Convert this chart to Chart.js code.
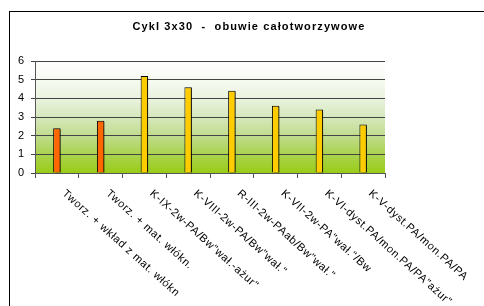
<!DOCTYPE html>
<html>
<head>
<meta charset="utf-8">
<script src="https://cdn.jsdelivr.net/npm/chart.js@4"></script>
<style>
  html, body { margin: 0; padding: 0; background: #fff; }
  #wrap { width: 484px; height: 306px; }
</style>
</head>
<body>
<div id="wrap"><canvas id="chart" width="484" height="306"></canvas></div>
<script>
// Dane wykresu
const chartTitle = "Cykl 3x30  -  obuwie całotworzywowe";
const categories = [
  "Tworz. + wkład z mat. włókn",
  "Tworz. + mat. włókn.",
  "K-IX-2w-PA/Bw\"wał.-ażur\"",
  "K-VIII-2w-PA/Bw\"wał.\"",
  "R-III-2w-PAab/Bw\"wał.\"",
  "K-VII-2w-PA\"wał.\"/Bw",
  "K-VI-dyst.PA/mon.PA/PA\"ażur\"",
  "K-V-dyst.PA/mon.PA/PA"
];
const values = [2.4, 2.8, 5.2, 4.6, 4.4, 3.6, 3.4, 2.6];
const barColors = ["#FF6600", "#FF6600", "#FFCC00", "#FFCC00", "#FFCC00", "#FFCC00", "#FFCC00", "#FFCC00"];
const yTicks = [0, 1, 2, 3, 4, 5, 6];

const FONT = "'Liberation Sans', Arial, sans-serif";

// Ramka, tytuł, tło obszaru wykresu i etykiety osi X
const backgroundPlugin = {
  id: "background",
  beforeDraw(chart) {
    const { ctx, chartArea: a } = chart;
    ctx.save();
    ctx.strokeStyle = "#000";
    ctx.lineWidth = 1;
    ctx.strokeRect(9.5, 11.5, 600, 400);
    const g = ctx.createLinearGradient(0, a.top, 0, a.bottom);
    g.addColorStop(0, "#ffffff");
    g.addColorStop(0.17, "#f6faf1");
    g.addColorStop(0.33, "#eaf3df");
    g.addColorStop(0.5, "#d6e8bc");
    g.addColorStop(0.67, "#c0dc8c");
    g.addColorStop(0.83, "#abd350");
    g.addColorStop(1, "#99cc18");
    ctx.fillStyle = g;
    ctx.fillRect(a.left, a.top, a.right - a.left, a.bottom - a.top);

    ctx.fillStyle = "#000";
    ctx.font = "bold 11px " + FONT;
    ctx.letterSpacing = "1.1px";
    ctx.textAlign = "center";
    ctx.textBaseline = "middle";
    ctx.fillText(chartTitle, 249, 27);
    ctx.restore();
  },
  beforeDatasetsDraw(chart) {
    const ctx = chart.ctx;
    ctx.save();
    ctx.shadowColor = "rgba(0,0,0,0.55)";
    ctx.shadowOffsetX = 2;
    ctx.shadowOffsetY = 1;
  },
  afterDatasetsDraw(chart) {
    chart.ctx.restore();
  },
  afterDraw(chart) {
    const { ctx, scales } = chart;
    const x = scales.x;
    ctx.save();
    ctx.font = "11px " + FONT;
    ctx.letterSpacing = "0.6px";
    ctx.fillStyle = "#000";
    ctx.textAlign = "left";
    ctx.textBaseline = "middle";
    categories.forEach((label, i) => {
      const px = x.getPixelForTick(i);
      ctx.save();
      ctx.translate(px + 7, x.top + 19);
      ctx.rotate(42 * Math.PI / 180);
      ctx.fillText(label, 0, 0);
      ctx.restore();
    });
    ctx.restore();
  }
};

const ctx = document.getElementById("chart").getContext("2d");
new Chart(ctx, {
  type: "bar",
  data: {
    labels: categories,
    datasets: [{
      data: values,
      backgroundColor: barColors,
      borderColor: "#000",
      borderWidth: 1,
      barPercentage: 0.17,
      categoryPercentage: 1
    }]
  },
  options: {
    responsive: false,
    animation: false,
    layout: { padding: { left: 14, right: 99, top: 61, bottom: 0 } },
    plugins: {
      legend: { display: false },
      tooltip: { enabled: false },
      title: { display: false }
    },
    scales: {
      x: {
        offset: true,
        afterFit(scale) { scale.height = 133; },
        ticks: { display: false },
        grid: { offset: true, drawOnChartArea: false, color: "#555", tickLength: 5 },
        border: { color: "#555" }
      },
      y: {
        min: 0,
        max: 6,
        afterFit(scale) { scale.width = 21; },
        afterBuildTicks(scale) { scale.ticks = yTicks.map(v => ({ value: v })); },
        ticks: {
          color: "#000",
          padding: 7,
          font: { family: FONT, size: 11 }
        },
        grid: { color: "#444", tickLength: 4 },
        border: { color: "#555" }
      }
    }
  },
  plugins: [backgroundPlugin]
});
</script>
</body>
</html>
